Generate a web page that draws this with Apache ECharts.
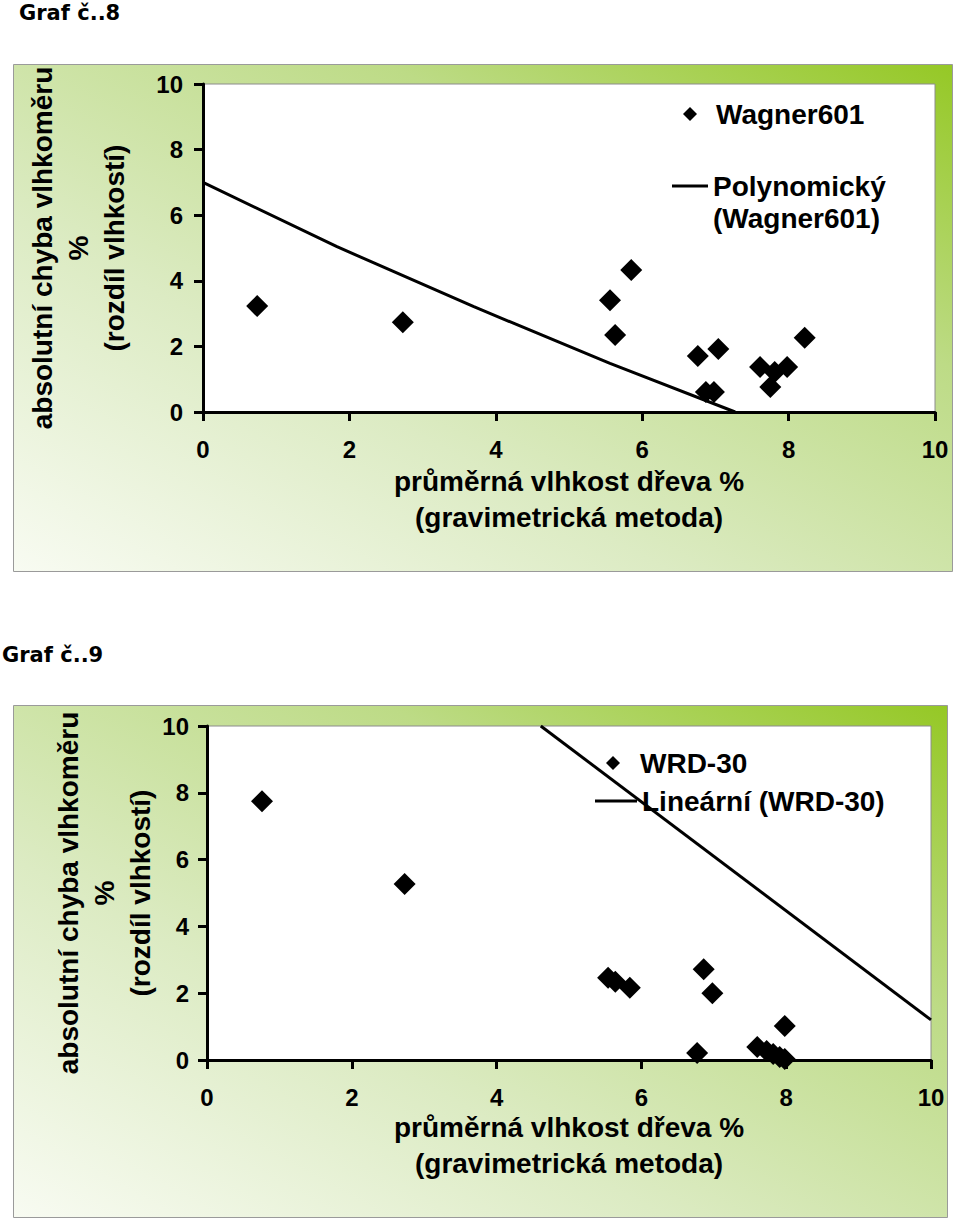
<!DOCTYPE html>
<html>
<head>
<meta charset="utf-8">
<script src="https://cdn.jsdelivr.net/npm/echarts@6/dist/echarts.min.js"></script>
<style>
html,body{margin:0;padding:0;background:#fff;}
#c{width:960px;height:1223px;}
</style>
</head>
<body>
<div id="c"></div>
<script>
// ---- data ----
var xTicks = [0, 2, 4, 6, 8, 10];
var yTicks = [0, 2, 4, 6, 8, 10];

var wagnerName = 'Wagner601';
var wagnerPts = [
  [0.74, 3.23], [2.73, 2.74], [5.56, 3.41], [5.63, 2.35], [5.85, 4.33],
  [6.76, 1.71], [6.87, 0.61], [6.98, 0.61], [7.04, 1.92], [7.61, 1.37],
  [7.75, 0.76], [7.81, 1.22], [7.98, 1.37], [8.22, 2.26]
];
var wagnerTrendName = 'Polynomický (Wagner601)';
var wagnerTrend = [[0, 7.0], [1.83, 5.04], [3.7, 3.21], [5.56, 1.48], [7.27, 0]];

var wrdName = 'WRD-30';
var wrdPts = [
  [0.76, 7.75], [2.73, 5.27], [5.54, 2.46], [5.64, 2.34], [5.84, 2.16],
  [6.77, 0.21], [6.86, 2.72], [6.98, 2.0], [7.60, 0.39], [7.73, 0.27],
  [7.82, 0.18], [7.91, 0.09], [7.98, 1.02], [7.98, 0.03]
];
var wrdTrendName = 'Lineární (WRD-30)';
var wrdTrend = [[4.61, 10], [10, 1.2]];

var titles = ['Graf č..8', 'Graf č..9'];
var xTitle = 'průměrná vlhkost dřeva %\n(gravimetrická metoda)';
var yTitle = 'absolutní chyba vlhkoměru\n%\n(rozdíl vlhkostí)';

// ---- chart ----
var FONT = '"Liberation Sans", Arial, sans-serif';
var chart = echarts.init(document.getElementById('c'), null, {renderer: 'svg', width: 960, height: 1223});

function bgRect(x, y, w, h) {
  return {
    type: 'rect', z: -100, silent: true,
    shape: {x: x, y: y, width: w, height: h},
    style: {
      fill: {type: 'linear', x: 0, y: 1, x2: 1, y2: 0, colorStops: [
        {offset: 0, color: '#f8fbf2'},
        {offset: 0.35, color: '#dcebc3'},
        {offset: 0.7, color: '#bddb86'},
        {offset: 1, color: '#95c825'}
      ]},
      stroke: '#9a9a9a', lineWidth: 1
    }
  };
}

function xAxisOpt(gi, nameGap) {
  return {
    gridIndex: gi, type: 'value', min: xTicks[0], max: xTicks[xTicks.length - 1], interval: 2,
    splitLine: {show: false},
    axisLine: {show: true, onZero: false, lineStyle: {color: '#000', width: 3}},
    axisTick: {show: true, length: 9, lineStyle: {color: '#000', width: 3}},
    axisLabel: {color: '#000', fontSize: 24, fontWeight: 'bold', fontFamily: FONT, margin: 25},
    name: xTitle, nameLocation: 'middle', nameGap: nameGap, nameMoveOverlap: false,
    nameTextStyle: {color: '#000', fontSize: 28, fontWeight: 'bold', fontFamily: FONT, lineHeight: 36}
  };
}
function yAxisOpt(gi, nameGap, margin) {
  return {
    gridIndex: gi, type: 'value', min: yTicks[0], max: yTicks[yTicks.length - 1], interval: 2,
    splitLine: {show: false},
    axisLine: {show: true, onZero: false, lineStyle: {color: '#000', width: 3}},
    axisTick: {show: true, length: 9, lineStyle: {color: '#000', width: 3}},
    axisLabel: {color: '#000', fontSize: 24, fontWeight: 'bold', fontFamily: FONT, margin: margin},
    name: yTitle, nameLocation: 'middle', nameGap: nameGap, nameRotate: 90, nameMoveOverlap: false,
    nameTextStyle: {color: '#000', fontSize: 28, fontWeight: 'bold', fontFamily: FONT, lineHeight: 36}
  };
}

function legendTextStyle(pad) {
  return {color: '#000', fontSize: 28, fontWeight: 'bold', fontFamily: FONT,
    rich: {p: {padding: [0, 0, 0, pad], fontSize: 28, fontWeight: 'bold', fontFamily: FONT, color: '#000'}}};
}

var option = {
  animation: false,
  backgroundColor: '#fff',
  title: [
    {text: titles[0], left: 19, top: 2, padding: 0, textStyle: {fontFamily: '"DejaVu Sans", Verdana, sans-serif', fontWeight: 'bold', fontSize: 21, color: '#000'}},
    {text: titles[1], left: 2, top: 644, padding: 0, textStyle: {fontFamily: '"DejaVu Sans", Verdana, sans-serif', fontWeight: 'bold', fontSize: 21, color: '#000'}}
  ],
  graphic: [bgRect(13.5, 64.5, 939, 507), bgRect(13.5, 705.5, 934, 512)],
  grid: [
    {left: 203, top: 84, width: 732, height: 328, show: true, backgroundColor: '#fff', borderColor: '#8c8c8c', borderWidth: 1},
    {left: 207, top: 726, width: 724, height: 334, show: true, backgroundColor: '#fff', borderColor: '#8c8c8c', borderWidth: 1}
  ],
  xAxis: [xAxisOpt(0, 51), xAxisOpt(1, 49)],
  yAxis: [yAxisOpt(0, 71, 20), yAxisOpt(1, 49, 18)],
  legend: [
    {data: [wagnerName], left: 683, top: 100, padding: 0, icon: 'diamond', itemWidth: 14, itemHeight: 14, selectedMode: false,
      formatter: function (n) { return '{p|' + n + '}'; }, textStyle: legendTextStyle(14)},
    {data: [wagnerTrendName], left: 672, top: 138, padding: 0, icon: 'rect', itemWidth: 36, itemHeight: 3, selectedMode: false,
      formatter: function () { return ' \nPolynomický\n(Wagner601)'; },
      textStyle: {color: '#000', fontSize: 28, fontWeight: 'bold', fontFamily: FONT, lineHeight: 32}},
    {data: [wrdName], left: 606, top: 749, padding: 0, icon: 'diamond', itemWidth: 14, itemHeight: 14, selectedMode: false,
      formatter: function (n) { return '{p|' + n + '}'; }, textStyle: legendTextStyle(15)},
    {data: [wrdTrendName], left: 595, top: 787, padding: 0, icon: 'rect', itemWidth: 42, itemHeight: 3, selectedMode: false,
      textStyle: {color: '#000', fontSize: 28, fontWeight: 'bold', fontFamily: FONT}}
  ],
  series: [
    {name: wagnerTrendName, type: 'line', xAxisIndex: 0, yAxisIndex: 0, data: wagnerTrend, smooth: false, symbol: 'none', clip: true,
      lineStyle: {color: '#000', width: 3}, itemStyle: {color: '#000'}},
    {name: wagnerName, type: 'scatter', xAxisIndex: 0, yAxisIndex: 0, data: wagnerPts, symbol: 'diamond', symbolSize: 22,
      itemStyle: {color: '#000', opacity: 1}},
    {name: wrdTrendName, type: 'line', xAxisIndex: 1, yAxisIndex: 1, data: wrdTrend, symbol: 'none', clip: true,
      lineStyle: {color: '#000', width: 3}, itemStyle: {color: '#000'}},
    {name: wrdName, type: 'scatter', xAxisIndex: 1, yAxisIndex: 1, data: wrdPts, symbol: 'diamond', symbolSize: 22,
      itemStyle: {color: '#000', opacity: 1}}
  ]
};
chart.setOption(option);
</script>
</body>
</html>
